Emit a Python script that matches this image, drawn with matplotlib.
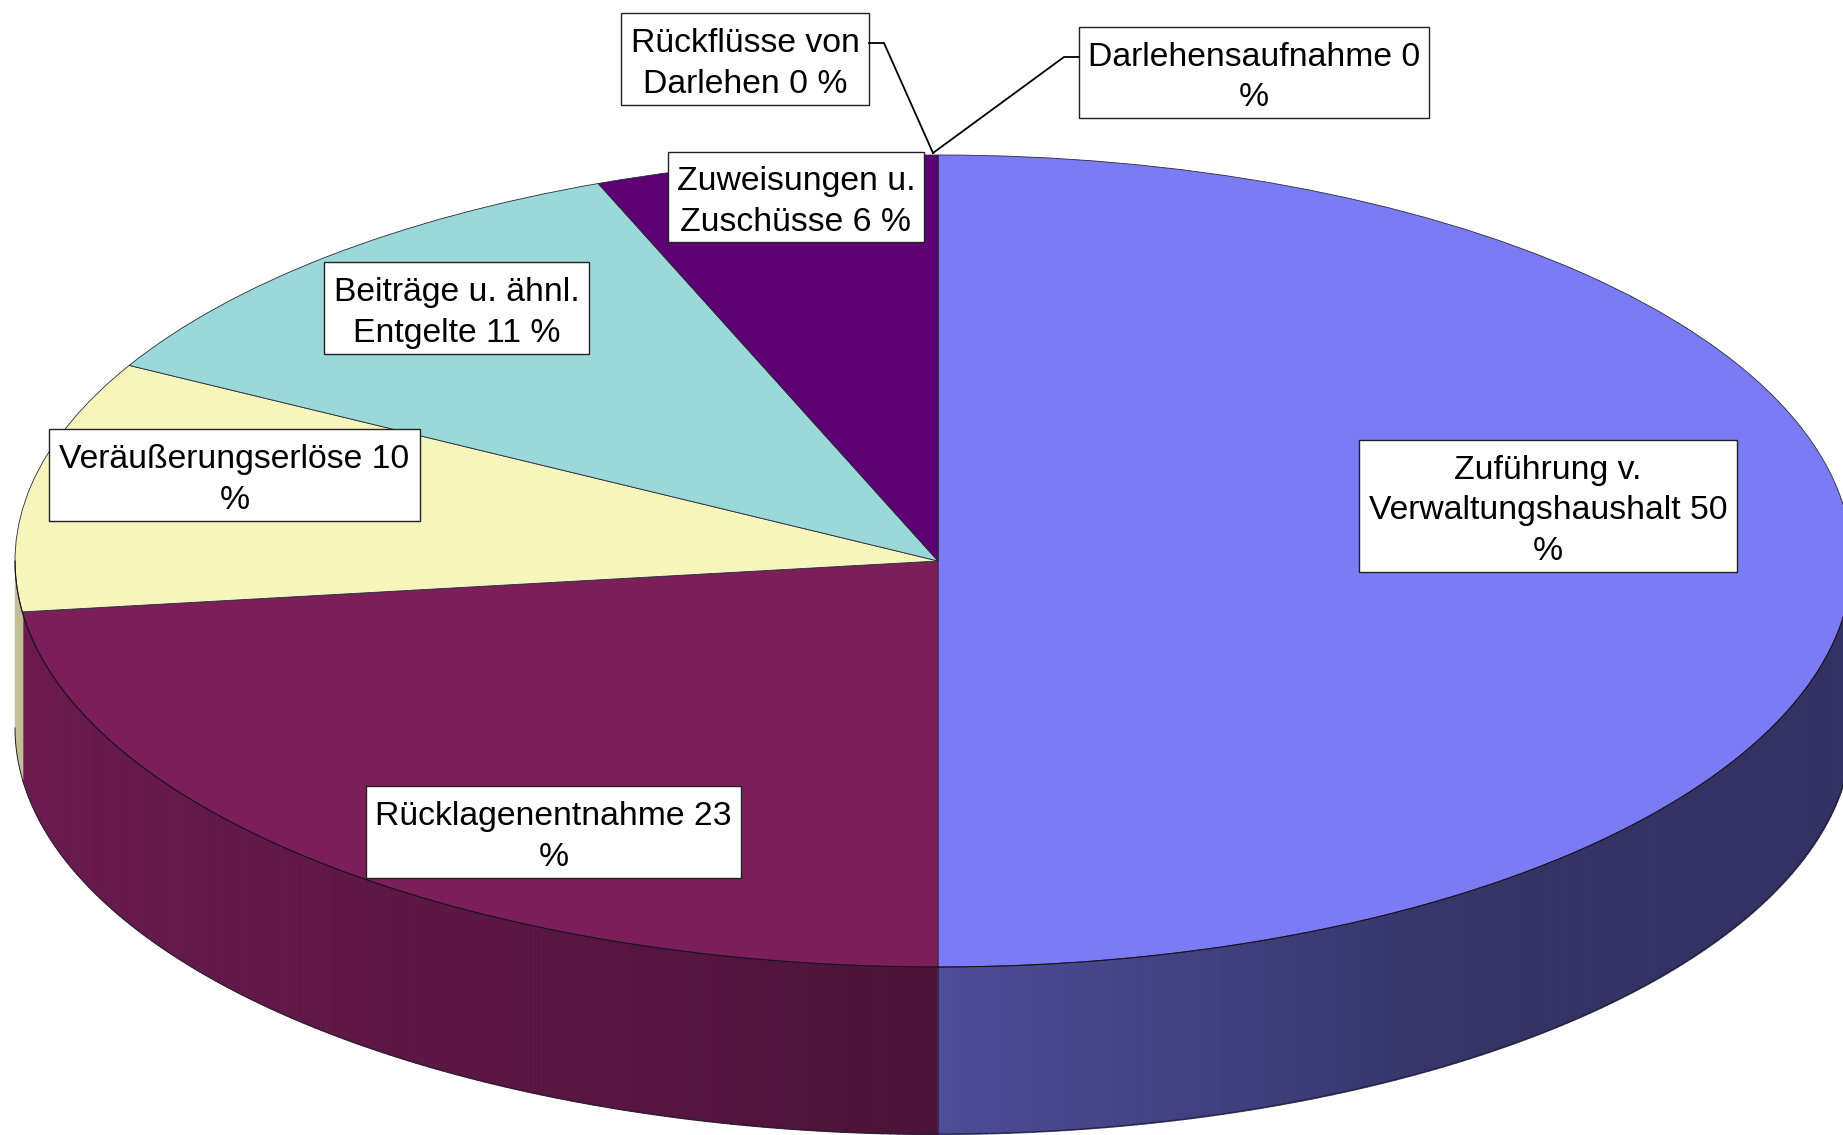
import numpy as np
import matplotlib
matplotlib.use('agg')
import matplotlib.pyplot as plt
from matplotlib.patches import Rectangle
from matplotlib.transforms import Affine2D

# clockwise from 12 o'clock
names = ["Zuführung v.\nVerwaltungshaushalt 50\n%", "Rücklagenentnahme 23\n%",
         "Veräußerungserlöse 10\n%", "Beiträge u. ähnl.\nEntgelte 11 %",
         "Zuweisungen u.\nZuschüsse 6 %", "Rückflüsse von\nDarlehen 0 %",
         "Darlehensaufnahme 0\n%"]
values = [50, 23, 10, 11, 6, 0, 0]
colors = ["#7B7BF5", "#7B1E5A", "#F7F5BC", "#9BD9D9", "#5C0073", "#3C3C8C", "#3C3C8C"]

# label boxes in image pixels: left, top, right, bottom
boxes = [(1359, 440, 1737, 572), (366, 786, 741, 878), (49, 429, 420, 521),
         (324, 262, 589, 354), (668, 152, 924, 242), (621, 13, 869, 105),
         (1079, 27, 1429, 118)]
leaders = [([869, 884, 933], [43, 43, 153]), ([1079, 1064, 933], [57, 57, 153])]

W, H = 1843, 1135
cx, cy, rx, ry, depth = 938, 561, 923, 406, 167
right_squash = 914 / 923  # right half of the ellipse is a little narrower

plt.rcParams['font.family'] = ['Liberation Sans', 'DejaVu Sans']
fig = plt.figure(figsize=(W / 100, H / 100), dpi=100)

# the pie is drawn on a unit circle, the axes limits squash it to the ellipse
axe = fig.add_axes([0, 0, 1, 1])
wedges, _ = axe.pie(values, colors=colors, startangle=90, counterclock=False, radius=1,
                    wedgeprops=dict(edgecolor="#2a2a3a", linewidth=0.6, zorder=3))
axe.set_aspect('auto')
axe.set_xlim(-cx / rx, (W - cx) / rx)
axe.set_ylim(-(H - cy) / ry, cy / ry)
axe.axis('off')
wedges[0].set_transform(Affine2D().scale(right_squash, 1) + axe.transData)


def squash(x):
    return np.where(x > 0, x * right_squash, x)


# side wall, only the front half of the ellipse shows
d = depth / ry
edges = np.cumsum([0] + values) / sum(values) * 360
for i, color in enumerate(colors):
    lo, hi = max(edges[i], 90), min(edges[i + 1], 270)
    if hi <= lo:
        continue
    base = np.array(matplotlib.colors.to_rgb(color))
    steps = np.append(np.arange(lo, hi, 0.5), hi)
    for a, b in zip(steps[:-1], steps[1:]):
        t = np.radians([a, b])
        mid = np.sin(np.radians((a + b) / 2))
        shade = np.interp(mid, [-1, 0, 0.6, 1], [0.87, 0.62, 0.42, 0.40])
        if i == 2:
            shade = 0.78
        axe.fill_between(squash(np.sin(t)), np.cos(t), np.cos(t) - d,
                         color=tuple(base * shade), lw=0.8, antialiased=False, zorder=1)

t = np.radians(np.linspace(90, 270, 361))
axe.plot(squash(np.sin(t)), np.cos(t) - d, color="#222233", lw=0.7, zorder=2)
axe.plot(squash(np.sin(t)), np.cos(t), color="#1a1020", lw=0.8, zorder=4)
axe.plot([0, 0], [-1, -1 - d], color="#3a2a55", lw=1.2, zorder=2)

# overlay in image pixels for the labels
top = fig.add_axes([0, 0, 1, 1], zorder=5)
top.set_xlim(0, W)
top.set_ylim(H, 0)
top.axis('off')

for xs, ys in leaders:
    top.plot(xs, ys, color="black", lw=1.3)

for name, (x0, y0, x1, y1) in zip(names, boxes):
    top.add_patch(Rectangle((x0, y0), x1 - x0, y1 - y0, facecolor="white",
                            edgecolor="#222222", linewidth=1.0))
    top.text((x0 + x1) / 2, (y0 + y1) / 2 + 5, name, ha="center", va="center",
             fontsize=24.3, linespacing=1.38, color="black")

fig.savefig("out.png", dpi=100)
